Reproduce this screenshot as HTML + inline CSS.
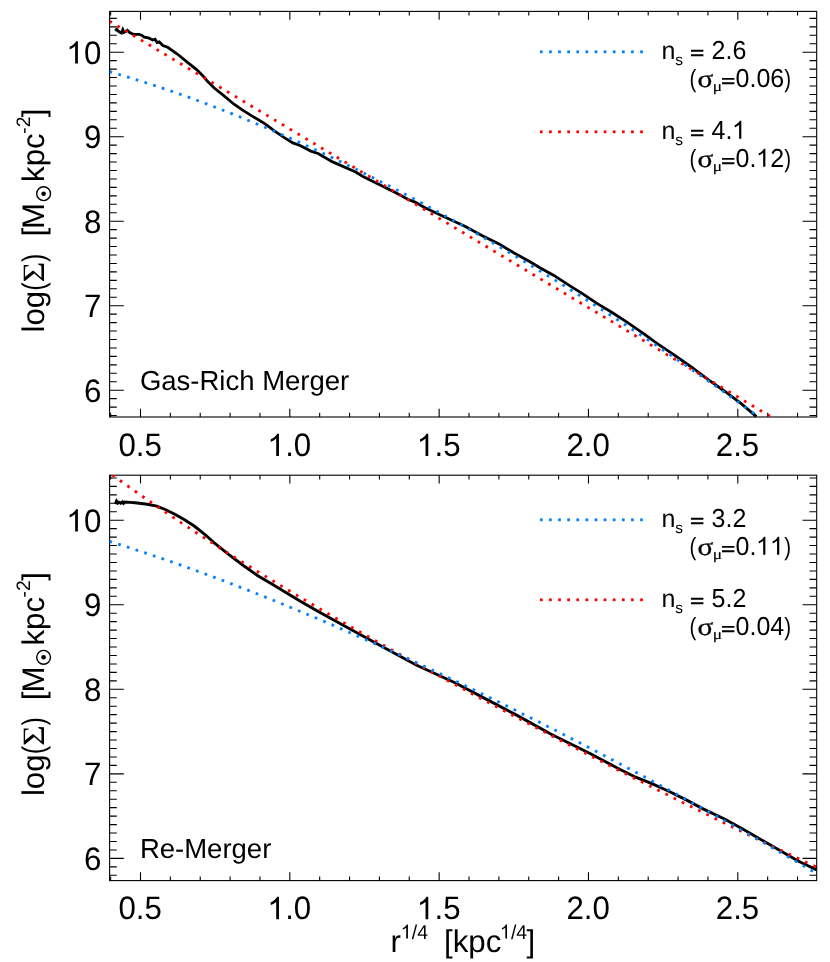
<!DOCTYPE html>
<html><head><meta charset="utf-8"><title>Surface density profiles</title>
<style>
html,body{margin:0;padding:0;background:#fff;}
body{width:830px;height:962px;overflow:hidden;}
svg{display:block;will-change:transform;text-rendering:geometricPrecision;font-family:"Liberation Sans",sans-serif;fill:#000;}
</style></head><body>
<svg width="830" height="962" viewBox="0 0 830 962">
<rect width="830" height="962" fill="#fff"/>
<defs><clipPath id="c1"><rect x="109.5" y="11.3" width="707.3000000000001" height="406.1"/></clipPath><clipPath id="c2"><rect x="109.5" y="475.09999999999997" width="707.3000000000001" height="405.90000000000003"/></clipPath></defs>
<!-- panel 1 -->
<rect x="109.6" y="11.4" width="707.1" height="405.6" fill="none" stroke="#000" stroke-width="1.1"/><path d="M110.64 11.4 v4.2 M110.64 417.0 v-4.2 M140.50 11.4 v8.3 M140.50 417.0 v-8.3 M170.36 11.4 v4.2 M170.36 417.0 v-4.2 M200.23 11.4 v4.2 M200.23 417.0 v-4.2 M230.10 11.4 v4.2 M230.10 417.0 v-4.2 M259.96 11.4 v4.2 M259.96 417.0 v-4.2 M289.82 11.4 v8.3 M289.82 417.0 v-8.3 M319.69 11.4 v4.2 M319.69 417.0 v-4.2 M349.55 11.4 v4.2 M349.55 417.0 v-4.2 M379.42 11.4 v4.2 M379.42 417.0 v-4.2 M409.28 11.4 v4.2 M409.28 417.0 v-4.2 M439.15 11.4 v8.3 M439.15 417.0 v-8.3 M469.01 11.4 v4.2 M469.01 417.0 v-4.2 M498.88 11.4 v4.2 M498.88 417.0 v-4.2 M528.75 11.4 v4.2 M528.75 417.0 v-4.2 M558.61 11.4 v4.2 M558.61 417.0 v-4.2 M588.47 11.4 v8.3 M588.47 417.0 v-8.3 M618.34 11.4 v4.2 M618.34 417.0 v-4.2 M648.21 11.4 v4.2 M648.21 417.0 v-4.2 M678.07 11.4 v4.2 M678.07 417.0 v-4.2 M707.93 11.4 v4.2 M707.93 417.0 v-4.2 M737.80 11.4 v8.3 M737.80 417.0 v-8.3 M767.66 11.4 v4.2 M767.66 417.0 v-4.2 M797.53 11.4 v4.2 M797.53 417.0 v-4.2 M109.6 415.55 h7.2 M816.7 415.55 h-7.2 M109.6 407.10 h7.2 M816.7 407.10 h-7.2 M109.6 398.65 h7.2 M816.7 398.65 h-7.2 M109.6 390.20 h14.2 M816.7 390.20 h-14.2 M109.6 381.75 h7.2 M816.7 381.75 h-7.2 M109.6 373.30 h7.2 M816.7 373.30 h-7.2 M109.6 364.85 h7.2 M816.7 364.85 h-7.2 M109.6 356.40 h7.2 M816.7 356.40 h-7.2 M109.6 347.95 h7.2 M816.7 347.95 h-7.2 M109.6 339.50 h7.2 M816.7 339.50 h-7.2 M109.6 331.05 h7.2 M816.7 331.05 h-7.2 M109.6 322.60 h7.2 M816.7 322.60 h-7.2 M109.6 314.15 h7.2 M816.7 314.15 h-7.2 M109.6 305.70 h14.2 M816.7 305.70 h-14.2 M109.6 297.25 h7.2 M816.7 297.25 h-7.2 M109.6 288.80 h7.2 M816.7 288.80 h-7.2 M109.6 280.35 h7.2 M816.7 280.35 h-7.2 M109.6 271.90 h7.2 M816.7 271.90 h-7.2 M109.6 263.45 h7.2 M816.7 263.45 h-7.2 M109.6 255.00 h7.2 M816.7 255.00 h-7.2 M109.6 246.55 h7.2 M816.7 246.55 h-7.2 M109.6 238.10 h7.2 M816.7 238.10 h-7.2 M109.6 229.65 h7.2 M816.7 229.65 h-7.2 M109.6 221.20 h14.2 M816.7 221.20 h-14.2 M109.6 212.75 h7.2 M816.7 212.75 h-7.2 M109.6 204.30 h7.2 M816.7 204.30 h-7.2 M109.6 195.85 h7.2 M816.7 195.85 h-7.2 M109.6 187.40 h7.2 M816.7 187.40 h-7.2 M109.6 178.95 h7.2 M816.7 178.95 h-7.2 M109.6 170.50 h7.2 M816.7 170.50 h-7.2 M109.6 162.05 h7.2 M816.7 162.05 h-7.2 M109.6 153.60 h7.2 M816.7 153.60 h-7.2 M109.6 145.15 h7.2 M816.7 145.15 h-7.2 M109.6 136.70 h14.2 M816.7 136.70 h-14.2 M109.6 128.25 h7.2 M816.7 128.25 h-7.2 M109.6 119.80 h7.2 M816.7 119.80 h-7.2 M109.6 111.35 h7.2 M816.7 111.35 h-7.2 M109.6 102.90 h7.2 M816.7 102.90 h-7.2 M109.6 94.45 h7.2 M816.7 94.45 h-7.2 M109.6 86.00 h7.2 M816.7 86.00 h-7.2 M109.6 77.55 h7.2 M816.7 77.55 h-7.2 M109.6 69.10 h7.2 M816.7 69.10 h-7.2 M109.6 60.65 h7.2 M816.7 60.65 h-7.2 M109.6 52.20 h14.2 M816.7 52.20 h-14.2 M109.6 43.75 h7.2 M816.7 43.75 h-7.2 M109.6 35.30 h7.2 M816.7 35.30 h-7.2 M109.6 26.85 h7.2 M816.7 26.85 h-7.2 M109.6 18.40 h7.2 M816.7 18.40 h-7.2" stroke="#000" stroke-width="1.1" fill="none"/>
<g clip-path="url(#c1)">
<path d="M115.2 30.7 L116.7 29.3 L118.8 31.6 L121.4 33.0 L122.8 29.6 L123.9 32.3 L125.7 31.4 L127.5 30.3 L129.7 32.6 L133.3 34.3 L139.1 34.3 L142.0 35.4 L144.2 37.2 L148.5 37.9 L152.8 40.1 L155.0 39.3 L157.2 42.6 L159.3 41.9 L162.8 45.5 L167.7 47.3 L177.3 54.0 L186.9 61.8 L196.6 69.6 L204.2 77.2 L207.2 81.1 L214.5 88.3 L224.1 95.9 L233.7 104.0 L243.4 110.6 L253.0 116.6 L265.1 123.9 L274.7 131.1 L284.3 137.7 L292.8 142.9 L300.0 145.5 L310.9 151.1 L318.1 153.5 L332.6 161.9 L355.7 172.0 L362.9 176.4 L381.7 185.8 L396.2 193.0 L407.8 199.2 L415.0 202.1 L424.5 207.5 L444.7 216.9 L464.9 226.3 L482.3 235.7 L499.6 244.3 L514.1 253.0 L530.0 261.7 L539.5 267.5 L553.9 275.4 L568.4 284.8 L582.8 293.8 L597.3 303.6 L611.7 312.3 L626.2 321.7 L645.0 334.7 L656.9 343.4 L673.7 354.7 L690.6 366.5 L707.5 379.1 L724.3 391.0 L741.2 403.6 L756.4 416.6" fill="none" stroke="#000" stroke-width="2.8" stroke-linejoin="miter" stroke-miterlimit="4" stroke-linecap="butt"/>
<g fill="#ff0000"><rect x="-1.35" y="-1.40" width="2.7" height="2.8" transform="translate(110.71 21.94) rotate(30.9)"/><rect x="-1.35" y="-1.40" width="2.7" height="2.8" transform="translate(118.55 26.63) rotate(30.9)"/><rect x="-1.35" y="-1.40" width="2.7" height="2.8" transform="translate(126.38 31.31) rotate(30.9)"/><rect x="-1.35" y="-1.40" width="2.7" height="2.8" transform="translate(134.21 35.99) rotate(30.9)"/><rect x="-1.35" y="-1.40" width="2.7" height="2.8" transform="translate(142.05 40.67) rotate(30.9)"/><rect x="-1.35" y="-1.40" width="2.7" height="2.8" transform="translate(149.88 45.36) rotate(30.9)"/><rect x="-1.35" y="-1.40" width="2.7" height="2.8" transform="translate(157.72 50.04) rotate(30.9)"/><rect x="-1.35" y="-1.40" width="2.7" height="2.8" transform="translate(165.55 54.72) rotate(30.9)"/><rect x="-1.35" y="-1.40" width="2.7" height="2.8" transform="translate(173.39 59.41) rotate(30.9)"/><rect x="-1.35" y="-1.40" width="2.7" height="2.8" transform="translate(181.22 64.09) rotate(30.9)"/><rect x="-1.35" y="-1.40" width="2.7" height="2.8" transform="translate(189.05 68.77) rotate(30.9)"/><rect x="-1.35" y="-1.40" width="2.7" height="2.8" transform="translate(196.89 73.45) rotate(30.9)"/><rect x="-1.35" y="-1.40" width="2.7" height="2.8" transform="translate(204.72 78.14) rotate(30.9)"/><rect x="-1.35" y="-1.40" width="2.7" height="2.8" transform="translate(212.56 82.82) rotate(30.9)"/><rect x="-1.35" y="-1.40" width="2.7" height="2.8" transform="translate(220.39 87.50) rotate(30.9)"/><rect x="-1.35" y="-1.40" width="2.7" height="2.8" transform="translate(228.22 92.19) rotate(30.9)"/><rect x="-1.35" y="-1.40" width="2.7" height="2.8" transform="translate(236.06 96.87) rotate(30.9)"/><rect x="-1.35" y="-1.40" width="2.7" height="2.8" transform="translate(243.89 101.55) rotate(30.9)"/><rect x="-1.35" y="-1.40" width="2.7" height="2.8" transform="translate(251.72 106.24) rotate(30.9)"/><rect x="-1.35" y="-1.40" width="2.7" height="2.8" transform="translate(259.56 110.92) rotate(30.9)"/><rect x="-1.35" y="-1.40" width="2.7" height="2.8" transform="translate(267.39 115.60) rotate(30.9)"/><rect x="-1.35" y="-1.40" width="2.7" height="2.8" transform="translate(275.23 120.29) rotate(30.9)"/><rect x="-1.35" y="-1.40" width="2.7" height="2.8" transform="translate(283.06 124.97) rotate(30.9)"/><rect x="-1.35" y="-1.40" width="2.7" height="2.8" transform="translate(290.89 129.65) rotate(30.9)"/><rect x="-1.35" y="-1.40" width="2.7" height="2.8" transform="translate(298.73 134.34) rotate(30.9)"/><rect x="-1.35" y="-1.40" width="2.7" height="2.8" transform="translate(306.56 139.02) rotate(30.9)"/><rect x="-1.35" y="-1.40" width="2.7" height="2.8" transform="translate(314.39 143.71) rotate(30.9)"/><rect x="-1.35" y="-1.40" width="2.7" height="2.8" transform="translate(322.23 148.39) rotate(30.9)"/><rect x="-1.35" y="-1.40" width="2.7" height="2.8" transform="translate(330.06 153.07) rotate(30.9)"/><rect x="-1.35" y="-1.40" width="2.7" height="2.8" transform="translate(337.89 157.76) rotate(30.9)"/><rect x="-1.35" y="-1.40" width="2.7" height="2.8" transform="translate(345.73 162.44) rotate(30.9)"/><rect x="-1.35" y="-1.40" width="2.7" height="2.8" transform="translate(353.56 167.13) rotate(30.9)"/><rect x="-1.35" y="-1.40" width="2.7" height="2.8" transform="translate(361.39 171.81) rotate(30.9)"/><rect x="-1.35" y="-1.40" width="2.7" height="2.8" transform="translate(369.23 176.49) rotate(30.9)"/><rect x="-1.35" y="-1.40" width="2.7" height="2.8" transform="translate(377.06 181.18) rotate(30.9)"/><rect x="-1.35" y="-1.40" width="2.7" height="2.8" transform="translate(384.89 185.86) rotate(30.9)"/><rect x="-1.35" y="-1.40" width="2.7" height="2.8" transform="translate(392.73 190.55) rotate(30.9)"/><rect x="-1.35" y="-1.40" width="2.7" height="2.8" transform="translate(400.56 195.23) rotate(30.9)"/><rect x="-1.35" y="-1.40" width="2.7" height="2.8" transform="translate(408.39 199.92) rotate(30.9)"/><rect x="-1.35" y="-1.40" width="2.7" height="2.8" transform="translate(416.23 204.60) rotate(30.9)"/><rect x="-1.35" y="-1.40" width="2.7" height="2.8" transform="translate(424.06 209.29) rotate(30.9)"/><rect x="-1.35" y="-1.40" width="2.7" height="2.8" transform="translate(431.89 213.97) rotate(30.9)"/><rect x="-1.35" y="-1.40" width="2.7" height="2.8" transform="translate(439.73 218.66) rotate(30.9)"/><rect x="-1.35" y="-1.40" width="2.7" height="2.8" transform="translate(447.56 223.34) rotate(30.9)"/><rect x="-1.35" y="-1.40" width="2.7" height="2.8" transform="translate(455.39 228.03) rotate(30.9)"/><rect x="-1.35" y="-1.40" width="2.7" height="2.8" transform="translate(463.23 232.71) rotate(30.9)"/><rect x="-1.35" y="-1.40" width="2.7" height="2.8" transform="translate(471.06 237.39) rotate(30.9)"/><rect x="-1.35" y="-1.40" width="2.7" height="2.8" transform="translate(478.89 242.08) rotate(30.9)"/><rect x="-1.35" y="-1.40" width="2.7" height="2.8" transform="translate(486.72 246.76) rotate(30.9)"/><rect x="-1.35" y="-1.40" width="2.7" height="2.8" transform="translate(494.56 251.45) rotate(30.9)"/><rect x="-1.35" y="-1.40" width="2.7" height="2.8" transform="translate(502.39 256.14) rotate(30.9)"/><rect x="-1.35" y="-1.40" width="2.7" height="2.8" transform="translate(510.22 260.82) rotate(30.9)"/><rect x="-1.35" y="-1.40" width="2.7" height="2.8" transform="translate(518.05 265.51) rotate(30.9)"/><rect x="-1.35" y="-1.40" width="2.7" height="2.8" transform="translate(525.89 270.19) rotate(30.9)"/><rect x="-1.35" y="-1.40" width="2.7" height="2.8" transform="translate(533.72 274.88) rotate(30.9)"/><rect x="-1.35" y="-1.40" width="2.7" height="2.8" transform="translate(541.55 279.56) rotate(30.9)"/><rect x="-1.35" y="-1.40" width="2.7" height="2.8" transform="translate(549.39 284.25) rotate(30.9)"/><rect x="-1.35" y="-1.40" width="2.7" height="2.8" transform="translate(557.22 288.93) rotate(30.9)"/><rect x="-1.35" y="-1.40" width="2.7" height="2.8" transform="translate(565.05 293.62) rotate(30.9)"/><rect x="-1.35" y="-1.40" width="2.7" height="2.8" transform="translate(572.88 298.30) rotate(30.9)"/><rect x="-1.35" y="-1.40" width="2.7" height="2.8" transform="translate(580.72 302.99) rotate(30.9)"/><rect x="-1.35" y="-1.40" width="2.7" height="2.8" transform="translate(588.55 307.68) rotate(30.9)"/><rect x="-1.35" y="-1.40" width="2.7" height="2.8" transform="translate(596.38 312.36) rotate(30.9)"/><rect x="-1.35" y="-1.40" width="2.7" height="2.8" transform="translate(604.21 317.05) rotate(30.9)"/><rect x="-1.35" y="-1.40" width="2.7" height="2.8" transform="translate(612.04 321.73) rotate(30.9)"/><rect x="-1.35" y="-1.40" width="2.7" height="2.8" transform="translate(619.88 326.42) rotate(30.9)"/><rect x="-1.35" y="-1.40" width="2.7" height="2.8" transform="translate(627.71 331.11) rotate(30.9)"/><rect x="-1.35" y="-1.40" width="2.7" height="2.8" transform="translate(635.54 335.79) rotate(30.9)"/><rect x="-1.35" y="-1.40" width="2.7" height="2.8" transform="translate(643.37 340.48) rotate(30.9)"/><rect x="-1.35" y="-1.40" width="2.7" height="2.8" transform="translate(651.21 345.16) rotate(30.9)"/><rect x="-1.35" y="-1.40" width="2.7" height="2.8" transform="translate(659.04 349.85) rotate(30.9)"/><rect x="-1.35" y="-1.40" width="2.7" height="2.8" transform="translate(666.87 354.54) rotate(30.9)"/><rect x="-1.35" y="-1.40" width="2.7" height="2.8" transform="translate(674.70 359.22) rotate(30.9)"/><rect x="-1.35" y="-1.40" width="2.7" height="2.8" transform="translate(682.53 363.91) rotate(30.9)"/><rect x="-1.35" y="-1.40" width="2.7" height="2.8" transform="translate(690.37 368.60) rotate(30.9)"/><rect x="-1.35" y="-1.40" width="2.7" height="2.8" transform="translate(698.20 373.28) rotate(30.9)"/><rect x="-1.35" y="-1.40" width="2.7" height="2.8" transform="translate(706.03 377.97) rotate(30.9)"/><rect x="-1.35" y="-1.40" width="2.7" height="2.8" transform="translate(713.86 382.65) rotate(30.9)"/><rect x="-1.35" y="-1.40" width="2.7" height="2.8" transform="translate(721.69 387.34) rotate(30.9)"/><rect x="-1.35" y="-1.40" width="2.7" height="2.8" transform="translate(729.53 392.03) rotate(30.9)"/><rect x="-1.35" y="-1.40" width="2.7" height="2.8" transform="translate(737.36 396.72) rotate(30.9)"/><rect x="-1.35" y="-1.40" width="2.7" height="2.8" transform="translate(745.19 401.40) rotate(30.9)"/><rect x="-1.35" y="-1.40" width="2.7" height="2.8" transform="translate(753.02 406.09) rotate(30.9)"/><rect x="-1.35" y="-1.40" width="2.7" height="2.8" transform="translate(760.85 410.78) rotate(30.9)"/><rect x="-1.35" y="-1.40" width="2.7" height="2.8" transform="translate(768.68 415.46) rotate(30.9)"/></g>
<g fill="#0080ff"><rect x="-1.35" y="-1.40" width="2.7" height="2.8" transform="translate(110.81 72.05) rotate(16.0)"/><rect x="-1.35" y="-1.40" width="2.7" height="2.8" transform="translate(119.58 74.60) rotate(16.4)"/><rect x="-1.35" y="-1.40" width="2.7" height="2.8" transform="translate(128.32 77.22) rotate(16.9)"/><rect x="-1.35" y="-1.40" width="2.7" height="2.8" transform="translate(137.05 79.91) rotate(17.3)"/><rect x="-1.35" y="-1.40" width="2.7" height="2.8" transform="translate(145.75 82.66) rotate(17.8)"/><rect x="-1.35" y="-1.40" width="2.7" height="2.8" transform="translate(154.43 85.48) rotate(18.2)"/><rect x="-1.35" y="-1.40" width="2.7" height="2.8" transform="translate(163.09 88.37) rotate(18.6)"/><rect x="-1.35" y="-1.40" width="2.7" height="2.8" transform="translate(171.73 91.31) rotate(19.0)"/><rect x="-1.35" y="-1.40" width="2.7" height="2.8" transform="translate(180.35 94.32) rotate(19.5)"/><rect x="-1.35" y="-1.40" width="2.7" height="2.8" transform="translate(188.95 97.39) rotate(19.8)"/><rect x="-1.35" y="-1.40" width="2.7" height="2.8" transform="translate(197.52 100.52) rotate(20.2)"/><rect x="-1.35" y="-1.40" width="2.7" height="2.8" transform="translate(206.08 103.71) rotate(20.6)"/><rect x="-1.35" y="-1.40" width="2.7" height="2.8" transform="translate(214.61 106.95) rotate(21.0)"/><rect x="-1.35" y="-1.40" width="2.7" height="2.8" transform="translate(223.12 110.25) rotate(21.3)"/><rect x="-1.35" y="-1.40" width="2.7" height="2.8" transform="translate(231.61 113.60) rotate(21.7)"/><rect x="-1.35" y="-1.40" width="2.7" height="2.8" transform="translate(240.08 117.00) rotate(22.1)"/><rect x="-1.35" y="-1.40" width="2.7" height="2.8" transform="translate(248.54 120.45) rotate(22.4)"/><rect x="-1.35" y="-1.40" width="2.7" height="2.8" transform="translate(256.96 123.95) rotate(22.7)"/><rect x="-1.35" y="-1.40" width="2.7" height="2.8" transform="translate(265.37 127.51) rotate(23.1)"/><rect x="-1.35" y="-1.40" width="2.7" height="2.8" transform="translate(273.76 131.10) rotate(23.4)"/><rect x="-1.35" y="-1.40" width="2.7" height="2.8" transform="translate(282.13 134.75) rotate(23.7)"/><rect x="-1.35" y="-1.40" width="2.7" height="2.8" transform="translate(290.48 138.44) rotate(24.0)"/><rect x="-1.35" y="-1.40" width="2.7" height="2.8" transform="translate(298.81 142.18) rotate(24.3)"/><rect x="-1.35" y="-1.40" width="2.7" height="2.8" transform="translate(307.12 145.96) rotate(24.6)"/><rect x="-1.35" y="-1.40" width="2.7" height="2.8" transform="translate(315.41 149.78) rotate(24.9)"/><rect x="-1.35" y="-1.40" width="2.7" height="2.8" transform="translate(323.68 153.64) rotate(25.2)"/><rect x="-1.35" y="-1.40" width="2.7" height="2.8" transform="translate(331.93 157.55) rotate(25.5)"/><rect x="-1.35" y="-1.40" width="2.7" height="2.8" transform="translate(340.16 161.49) rotate(25.7)"/><rect x="-1.35" y="-1.40" width="2.7" height="2.8" transform="translate(348.38 165.48) rotate(26.0)"/><rect x="-1.35" y="-1.40" width="2.7" height="2.8" transform="translate(356.57 169.50) rotate(26.3)"/><rect x="-1.35" y="-1.40" width="2.7" height="2.8" transform="translate(364.75 173.56) rotate(26.5)"/><rect x="-1.35" y="-1.40" width="2.7" height="2.8" transform="translate(372.91 177.65) rotate(26.8)"/><rect x="-1.35" y="-1.40" width="2.7" height="2.8" transform="translate(381.04 181.79) rotate(27.0)"/><rect x="-1.35" y="-1.40" width="2.7" height="2.8" transform="translate(389.17 185.96) rotate(27.3)"/><rect x="-1.35" y="-1.40" width="2.7" height="2.8" transform="translate(397.27 190.16) rotate(27.5)"/><rect x="-1.35" y="-1.40" width="2.7" height="2.8" transform="translate(405.36 194.40) rotate(27.8)"/><rect x="-1.35" y="-1.40" width="2.7" height="2.8" transform="translate(413.42 198.67) rotate(28.0)"/><rect x="-1.35" y="-1.40" width="2.7" height="2.8" transform="translate(421.47 202.97) rotate(28.2)"/><rect x="-1.35" y="-1.40" width="2.7" height="2.8" transform="translate(429.51 207.30) rotate(28.5)"/><rect x="-1.35" y="-1.40" width="2.7" height="2.8" transform="translate(437.52 211.67) rotate(28.7)"/><rect x="-1.35" y="-1.40" width="2.7" height="2.8" transform="translate(445.52 216.07) rotate(28.9)"/><rect x="-1.35" y="-1.40" width="2.7" height="2.8" transform="translate(453.51 220.50) rotate(29.1)"/><rect x="-1.35" y="-1.40" width="2.7" height="2.8" transform="translate(461.47 224.95) rotate(29.3)"/><rect x="-1.35" y="-1.40" width="2.7" height="2.8" transform="translate(469.42 229.44) rotate(29.5)"/><rect x="-1.35" y="-1.40" width="2.7" height="2.8" transform="translate(477.36 233.96) rotate(29.8)"/><rect x="-1.35" y="-1.40" width="2.7" height="2.8" transform="translate(485.27 238.50) rotate(30.0)"/><rect x="-1.35" y="-1.40" width="2.7" height="2.8" transform="translate(493.17 243.08) rotate(30.2)"/><rect x="-1.35" y="-1.40" width="2.7" height="2.8" transform="translate(501.06 247.68) rotate(30.4)"/><rect x="-1.35" y="-1.40" width="2.7" height="2.8" transform="translate(508.93 252.30) rotate(30.6)"/><rect x="-1.35" y="-1.40" width="2.7" height="2.8" transform="translate(516.78 256.96) rotate(30.7)"/><rect x="-1.35" y="-1.40" width="2.7" height="2.8" transform="translate(524.62 261.64) rotate(30.9)"/><rect x="-1.35" y="-1.40" width="2.7" height="2.8" transform="translate(532.44 266.34) rotate(31.1)"/><rect x="-1.35" y="-1.40" width="2.7" height="2.8" transform="translate(540.25 271.07) rotate(31.3)"/><rect x="-1.35" y="-1.40" width="2.7" height="2.8" transform="translate(548.04 275.83) rotate(31.5)"/><rect x="-1.35" y="-1.40" width="2.7" height="2.8" transform="translate(555.81 280.61) rotate(31.7)"/><rect x="-1.35" y="-1.40" width="2.7" height="2.8" transform="translate(563.57 285.42) rotate(31.9)"/><rect x="-1.35" y="-1.40" width="2.7" height="2.8" transform="translate(571.32 290.25) rotate(32.0)"/><rect x="-1.35" y="-1.40" width="2.7" height="2.8" transform="translate(579.05 295.10) rotate(32.2)"/><rect x="-1.35" y="-1.40" width="2.7" height="2.8" transform="translate(586.77 299.98) rotate(32.4)"/><rect x="-1.35" y="-1.40" width="2.7" height="2.8" transform="translate(594.47 304.88) rotate(32.6)"/><rect x="-1.35" y="-1.40" width="2.7" height="2.8" transform="translate(602.16 309.80) rotate(32.7)"/><rect x="-1.35" y="-1.40" width="2.7" height="2.8" transform="translate(609.83 314.75) rotate(32.9)"/><rect x="-1.35" y="-1.40" width="2.7" height="2.8" transform="translate(617.49 319.72) rotate(33.1)"/><rect x="-1.35" y="-1.40" width="2.7" height="2.8" transform="translate(625.13 324.71) rotate(33.2)"/><rect x="-1.35" y="-1.40" width="2.7" height="2.8" transform="translate(632.76 329.72) rotate(33.4)"/><rect x="-1.35" y="-1.40" width="2.7" height="2.8" transform="translate(640.38 334.75) rotate(33.5)"/><rect x="-1.35" y="-1.40" width="2.7" height="2.8" transform="translate(647.98 339.81) rotate(33.7)"/><rect x="-1.35" y="-1.40" width="2.7" height="2.8" transform="translate(655.56 344.88) rotate(33.9)"/><rect x="-1.35" y="-1.40" width="2.7" height="2.8" transform="translate(663.14 349.98) rotate(34.0)"/><rect x="-1.35" y="-1.40" width="2.7" height="2.8" transform="translate(670.70 355.10) rotate(34.2)"/><rect x="-1.35" y="-1.40" width="2.7" height="2.8" transform="translate(678.24 360.24) rotate(34.3)"/><rect x="-1.35" y="-1.40" width="2.7" height="2.8" transform="translate(685.77 365.40) rotate(34.5)"/><rect x="-1.35" y="-1.40" width="2.7" height="2.8" transform="translate(693.29 370.58) rotate(34.6)"/><rect x="-1.35" y="-1.40" width="2.7" height="2.8" transform="translate(700.79 375.78) rotate(34.8)"/><rect x="-1.35" y="-1.40" width="2.7" height="2.8" transform="translate(708.28 381.00) rotate(35.0)"/><rect x="-1.35" y="-1.40" width="2.7" height="2.8" transform="translate(715.76 386.24) rotate(35.1)"/><rect x="-1.35" y="-1.40" width="2.7" height="2.8" transform="translate(723.22 391.50) rotate(35.3)"/><rect x="-1.35" y="-1.40" width="2.7" height="2.8" transform="translate(730.66 396.77) rotate(35.4)"/><rect x="-1.35" y="-1.40" width="2.7" height="2.8" transform="translate(738.10 402.07) rotate(35.6)"/><rect x="-1.35" y="-1.40" width="2.7" height="2.8" transform="translate(745.52 407.39) rotate(35.7)"/><rect x="-1.35" y="-1.40" width="2.7" height="2.8" transform="translate(752.92 412.73) rotate(35.8)"/></g>
</g>
<!-- panel 2 -->
<rect x="109.6" y="475.2" width="707.1" height="405.40000000000003" fill="none" stroke="#000" stroke-width="1.1"/><path d="M110.64 475.2 v4.2 M110.64 880.6 v-4.2 M140.50 475.2 v8.3 M140.50 880.6 v-8.3 M170.36 475.2 v4.2 M170.36 880.6 v-4.2 M200.23 475.2 v4.2 M200.23 880.6 v-4.2 M230.10 475.2 v4.2 M230.10 880.6 v-4.2 M259.96 475.2 v4.2 M259.96 880.6 v-4.2 M289.82 475.2 v8.3 M289.82 880.6 v-8.3 M319.69 475.2 v4.2 M319.69 880.6 v-4.2 M349.55 475.2 v4.2 M349.55 880.6 v-4.2 M379.42 475.2 v4.2 M379.42 880.6 v-4.2 M409.28 475.2 v4.2 M409.28 880.6 v-4.2 M439.15 475.2 v8.3 M439.15 880.6 v-8.3 M469.01 475.2 v4.2 M469.01 880.6 v-4.2 M498.88 475.2 v4.2 M498.88 880.6 v-4.2 M528.75 475.2 v4.2 M528.75 880.6 v-4.2 M558.61 475.2 v4.2 M558.61 880.6 v-4.2 M588.47 475.2 v8.3 M588.47 880.6 v-8.3 M618.34 475.2 v4.2 M618.34 880.6 v-4.2 M648.21 475.2 v4.2 M648.21 880.6 v-4.2 M678.07 475.2 v4.2 M678.07 880.6 v-4.2 M707.93 475.2 v4.2 M707.93 880.6 v-4.2 M737.80 475.2 v8.3 M737.80 880.6 v-8.3 M767.66 475.2 v4.2 M767.66 880.6 v-4.2 M797.53 475.2 v4.2 M797.53 880.6 v-4.2 M109.6 875.31 h7.2 M816.7 875.31 h-7.2 M109.6 866.86 h7.2 M816.7 866.86 h-7.2 M109.6 858.40 h14.2 M816.7 858.40 h-14.2 M109.6 849.95 h7.2 M816.7 849.95 h-7.2 M109.6 841.49 h7.2 M816.7 841.49 h-7.2 M109.6 833.04 h7.2 M816.7 833.04 h-7.2 M109.6 824.58 h7.2 M816.7 824.58 h-7.2 M109.6 816.12 h7.2 M816.7 816.12 h-7.2 M109.6 807.67 h7.2 M816.7 807.67 h-7.2 M109.6 799.22 h7.2 M816.7 799.22 h-7.2 M109.6 790.76 h7.2 M816.7 790.76 h-7.2 M109.6 782.31 h7.2 M816.7 782.31 h-7.2 M109.6 773.85 h14.2 M816.7 773.85 h-14.2 M109.6 765.40 h7.2 M816.7 765.40 h-7.2 M109.6 756.94 h7.2 M816.7 756.94 h-7.2 M109.6 748.49 h7.2 M816.7 748.49 h-7.2 M109.6 740.03 h7.2 M816.7 740.03 h-7.2 M109.6 731.58 h7.2 M816.7 731.58 h-7.2 M109.6 723.12 h7.2 M816.7 723.12 h-7.2 M109.6 714.66 h7.2 M816.7 714.66 h-7.2 M109.6 706.21 h7.2 M816.7 706.21 h-7.2 M109.6 697.75 h7.2 M816.7 697.75 h-7.2 M109.6 689.30 h14.2 M816.7 689.30 h-14.2 M109.6 680.85 h7.2 M816.7 680.85 h-7.2 M109.6 672.39 h7.2 M816.7 672.39 h-7.2 M109.6 663.93 h7.2 M816.7 663.93 h-7.2 M109.6 655.48 h7.2 M816.7 655.48 h-7.2 M109.6 647.03 h7.2 M816.7 647.03 h-7.2 M109.6 638.57 h7.2 M816.7 638.57 h-7.2 M109.6 630.12 h7.2 M816.7 630.12 h-7.2 M109.6 621.66 h7.2 M816.7 621.66 h-7.2 M109.6 613.21 h7.2 M816.7 613.21 h-7.2 M109.6 604.75 h14.2 M816.7 604.75 h-14.2 M109.6 596.30 h7.2 M816.7 596.30 h-7.2 M109.6 587.84 h7.2 M816.7 587.84 h-7.2 M109.6 579.38 h7.2 M816.7 579.38 h-7.2 M109.6 570.93 h7.2 M816.7 570.93 h-7.2 M109.6 562.48 h7.2 M816.7 562.48 h-7.2 M109.6 554.02 h7.2 M816.7 554.02 h-7.2 M109.6 545.57 h7.2 M816.7 545.57 h-7.2 M109.6 537.11 h7.2 M816.7 537.11 h-7.2 M109.6 528.65 h7.2 M816.7 528.65 h-7.2 M109.6 520.20 h14.2 M816.7 520.20 h-14.2 M109.6 511.75 h7.2 M816.7 511.75 h-7.2 M109.6 503.29 h7.2 M816.7 503.29 h-7.2 M109.6 494.83 h7.2 M816.7 494.83 h-7.2 M109.6 486.38 h7.2 M816.7 486.38 h-7.2 M109.6 477.93 h7.2 M816.7 477.93 h-7.2" stroke="#000" stroke-width="1.1" fill="none"/>
<g clip-path="url(#c2)">
<path d="M115.2 504.0 L116.5 501.0 L117.8 503.0 L118.8 502.2 L120.7 503.2 L122.5 501.8 L123.5 503.4 L125.0 502.1 L129.7 502.4 L135.1 502.8 L147.2 504.3 L156.8 506.1 L165.2 509.5 L174.9 514.3 L184.5 519.8 L194.2 526.0 L205.0 534.5 L214.5 543.1 L228.9 554.7 L243.4 565.5 L257.8 575.7 L272.3 584.3 L286.7 593.0 L301.2 601.7 L320.0 612.5 L348.7 628.2 L382.5 646.8 L416.2 665.0 L455.0 682.7 L483.7 697.9 L517.5 715.6 L551.2 734.2 L590.0 753.5 L618.7 768.7 L635.6 777.2 L652.5 783.9 L669.3 791.5 L686.2 799.9 L703.1 808.9 L725.0 819.3 L742.7 829.1 L770.4 845.0 L798.1 861.0 L816.8 870.0" fill="none" stroke="#000" stroke-width="2.9" stroke-linejoin="miter" stroke-miterlimit="4" stroke-linecap="butt"/>
<g fill="#ff0000"><rect x="-1.35" y="-1.40" width="2.7" height="2.8" transform="translate(113.60 475.90) rotate(35.8)"/><rect x="-1.35" y="-1.40" width="2.7" height="2.8" transform="translate(121.01 481.22) rotate(35.6)"/><rect x="-1.35" y="-1.40" width="2.7" height="2.8" transform="translate(128.45 486.51) rotate(35.3)"/><rect x="-1.35" y="-1.40" width="2.7" height="2.8" transform="translate(135.91 491.77) rotate(35.1)"/><rect x="-1.35" y="-1.40" width="2.7" height="2.8" transform="translate(143.39 497.00) rotate(34.8)"/><rect x="-1.35" y="-1.40" width="2.7" height="2.8" transform="translate(150.90 502.20) rotate(34.6)"/><rect x="-1.35" y="-1.40" width="2.7" height="2.8" transform="translate(158.42 507.36) rotate(34.3)"/><rect x="-1.35" y="-1.40" width="2.7" height="2.8" transform="translate(165.97 512.49) rotate(34.1)"/><rect x="-1.35" y="-1.40" width="2.7" height="2.8" transform="translate(173.54 517.59) rotate(33.9)"/><rect x="-1.35" y="-1.40" width="2.7" height="2.8" transform="translate(181.13 522.66) rotate(33.6)"/><rect x="-1.35" y="-1.40" width="2.7" height="2.8" transform="translate(188.74 527.70) rotate(33.4)"/><rect x="-1.35" y="-1.40" width="2.7" height="2.8" transform="translate(196.37 532.72) rotate(33.2)"/><rect x="-1.35" y="-1.40" width="2.7" height="2.8" transform="translate(204.02 537.70) rotate(33.0)"/><rect x="-1.35" y="-1.40" width="2.7" height="2.8" transform="translate(211.68 542.65) rotate(32.8)"/><rect x="-1.35" y="-1.40" width="2.7" height="2.8" transform="translate(219.37 547.58) rotate(32.6)"/><rect x="-1.35" y="-1.40" width="2.7" height="2.8" transform="translate(227.07 552.48) rotate(32.4)"/><rect x="-1.35" y="-1.40" width="2.7" height="2.8" transform="translate(234.79 557.35) rotate(32.2)"/><rect x="-1.35" y="-1.40" width="2.7" height="2.8" transform="translate(242.52 562.20) rotate(32.0)"/><rect x="-1.35" y="-1.40" width="2.7" height="2.8" transform="translate(250.27 567.02) rotate(31.8)"/><rect x="-1.35" y="-1.40" width="2.7" height="2.8" transform="translate(258.04 571.82) rotate(31.6)"/><rect x="-1.35" y="-1.40" width="2.7" height="2.8" transform="translate(265.82 576.59) rotate(31.4)"/><rect x="-1.35" y="-1.40" width="2.7" height="2.8" transform="translate(273.62 581.34) rotate(31.3)"/><rect x="-1.35" y="-1.40" width="2.7" height="2.8" transform="translate(281.43 586.06) rotate(31.1)"/><rect x="-1.35" y="-1.40" width="2.7" height="2.8" transform="translate(289.25 590.76) rotate(30.9)"/><rect x="-1.35" y="-1.40" width="2.7" height="2.8" transform="translate(297.09 595.44) rotate(30.8)"/><rect x="-1.35" y="-1.40" width="2.7" height="2.8" transform="translate(304.94 600.10) rotate(30.6)"/><rect x="-1.35" y="-1.40" width="2.7" height="2.8" transform="translate(312.80 604.74) rotate(30.5)"/><rect x="-1.35" y="-1.40" width="2.7" height="2.8" transform="translate(320.67 609.35) rotate(30.3)"/><rect x="-1.35" y="-1.40" width="2.7" height="2.8" transform="translate(328.56 613.95) rotate(30.2)"/><rect x="-1.35" y="-1.40" width="2.7" height="2.8" transform="translate(336.46 618.53) rotate(30.0)"/><rect x="-1.35" y="-1.40" width="2.7" height="2.8" transform="translate(344.37 623.08) rotate(29.9)"/><rect x="-1.35" y="-1.40" width="2.7" height="2.8" transform="translate(352.29 627.62) rotate(29.8)"/><rect x="-1.35" y="-1.40" width="2.7" height="2.8" transform="translate(360.22 632.14) rotate(29.6)"/><rect x="-1.35" y="-1.40" width="2.7" height="2.8" transform="translate(368.15 636.65) rotate(29.5)"/><rect x="-1.35" y="-1.40" width="2.7" height="2.8" transform="translate(376.10 641.13) rotate(29.4)"/><rect x="-1.35" y="-1.40" width="2.7" height="2.8" transform="translate(384.06 645.60) rotate(29.3)"/><rect x="-1.35" y="-1.40" width="2.7" height="2.8" transform="translate(392.03 650.06) rotate(29.2)"/><rect x="-1.35" y="-1.40" width="2.7" height="2.8" transform="translate(400.01 654.50) rotate(29.0)"/><rect x="-1.35" y="-1.40" width="2.7" height="2.8" transform="translate(407.99 658.92) rotate(28.9)"/><rect x="-1.35" y="-1.40" width="2.7" height="2.8" transform="translate(415.98 663.33) rotate(28.8)"/><rect x="-1.35" y="-1.40" width="2.7" height="2.8" transform="translate(423.98 667.72) rotate(28.7)"/><rect x="-1.35" y="-1.40" width="2.7" height="2.8" transform="translate(431.99 672.10) rotate(28.6)"/><rect x="-1.35" y="-1.40" width="2.7" height="2.8" transform="translate(440.01 676.47) rotate(28.5)"/><rect x="-1.35" y="-1.40" width="2.7" height="2.8" transform="translate(448.03 680.83) rotate(28.4)"/><rect x="-1.35" y="-1.40" width="2.7" height="2.8" transform="translate(456.06 685.17) rotate(28.4)"/><rect x="-1.35" y="-1.40" width="2.7" height="2.8" transform="translate(464.09 689.50) rotate(28.3)"/><rect x="-1.35" y="-1.40" width="2.7" height="2.8" transform="translate(472.14 693.81) rotate(28.2)"/><rect x="-1.35" y="-1.40" width="2.7" height="2.8" transform="translate(480.18 698.12) rotate(28.1)"/><rect x="-1.35" y="-1.40" width="2.7" height="2.8" transform="translate(488.24 702.41) rotate(28.0)"/><rect x="-1.35" y="-1.40" width="2.7" height="2.8" transform="translate(496.30 706.70) rotate(28.0)"/><rect x="-1.35" y="-1.40" width="2.7" height="2.8" transform="translate(504.36 710.97) rotate(27.9)"/><rect x="-1.35" y="-1.40" width="2.7" height="2.8" transform="translate(512.44 715.23) rotate(27.8)"/><rect x="-1.35" y="-1.40" width="2.7" height="2.8" transform="translate(520.51 719.49) rotate(27.7)"/><rect x="-1.35" y="-1.40" width="2.7" height="2.8" transform="translate(528.59 723.73) rotate(27.7)"/><rect x="-1.35" y="-1.40" width="2.7" height="2.8" transform="translate(536.68 727.96) rotate(27.6)"/><rect x="-1.35" y="-1.40" width="2.7" height="2.8" transform="translate(544.77 732.18) rotate(27.5)"/><rect x="-1.35" y="-1.40" width="2.7" height="2.8" transform="translate(552.87 736.40) rotate(27.5)"/><rect x="-1.35" y="-1.40" width="2.7" height="2.8" transform="translate(560.97 740.60) rotate(27.4)"/><rect x="-1.35" y="-1.40" width="2.7" height="2.8" transform="translate(569.08 744.80) rotate(27.3)"/><rect x="-1.35" y="-1.40" width="2.7" height="2.8" transform="translate(577.19 748.98) rotate(27.3)"/><rect x="-1.35" y="-1.40" width="2.7" height="2.8" transform="translate(585.31 753.16) rotate(27.2)"/><rect x="-1.35" y="-1.40" width="2.7" height="2.8" transform="translate(593.43 757.33) rotate(27.1)"/><rect x="-1.35" y="-1.40" width="2.7" height="2.8" transform="translate(601.55 761.49) rotate(27.1)"/><rect x="-1.35" y="-1.40" width="2.7" height="2.8" transform="translate(609.68 765.64) rotate(27.0)"/><rect x="-1.35" y="-1.40" width="2.7" height="2.8" transform="translate(617.81 769.78) rotate(27.0)"/><rect x="-1.35" y="-1.40" width="2.7" height="2.8" transform="translate(625.95 773.92) rotate(26.9)"/><rect x="-1.35" y="-1.40" width="2.7" height="2.8" transform="translate(634.10 778.04) rotate(26.8)"/><rect x="-1.35" y="-1.40" width="2.7" height="2.8" transform="translate(642.24 782.16) rotate(26.8)"/><rect x="-1.35" y="-1.40" width="2.7" height="2.8" transform="translate(650.39 786.26) rotate(26.7)"/><rect x="-1.35" y="-1.40" width="2.7" height="2.8" transform="translate(658.55 790.36) rotate(26.6)"/><rect x="-1.35" y="-1.40" width="2.7" height="2.8" transform="translate(666.71 794.45) rotate(26.6)"/><rect x="-1.35" y="-1.40" width="2.7" height="2.8" transform="translate(674.88 798.53) rotate(26.5)"/><rect x="-1.35" y="-1.40" width="2.7" height="2.8" transform="translate(683.05 802.60) rotate(26.4)"/><rect x="-1.35" y="-1.40" width="2.7" height="2.8" transform="translate(691.22 806.66) rotate(26.4)"/><rect x="-1.35" y="-1.40" width="2.7" height="2.8" transform="translate(699.40 810.71) rotate(26.3)"/><rect x="-1.35" y="-1.40" width="2.7" height="2.8" transform="translate(707.59 814.75) rotate(26.2)"/><rect x="-1.35" y="-1.40" width="2.7" height="2.8" transform="translate(715.78 818.78) rotate(26.2)"/><rect x="-1.35" y="-1.40" width="2.7" height="2.8" transform="translate(723.97 822.80) rotate(26.1)"/><rect x="-1.35" y="-1.40" width="2.7" height="2.8" transform="translate(732.17 826.81) rotate(26.0)"/><rect x="-1.35" y="-1.40" width="2.7" height="2.8" transform="translate(740.38 830.81) rotate(25.9)"/><rect x="-1.35" y="-1.40" width="2.7" height="2.8" transform="translate(748.59 834.79) rotate(25.9)"/><rect x="-1.35" y="-1.40" width="2.7" height="2.8" transform="translate(756.81 838.77) rotate(25.8)"/><rect x="-1.35" y="-1.40" width="2.7" height="2.8" transform="translate(765.03 842.73) rotate(25.7)"/><rect x="-1.35" y="-1.40" width="2.7" height="2.8" transform="translate(773.26 846.68) rotate(25.6)"/><rect x="-1.35" y="-1.40" width="2.7" height="2.8" transform="translate(781.50 850.61) rotate(25.5)"/><rect x="-1.35" y="-1.40" width="2.7" height="2.8" transform="translate(789.74 854.54) rotate(25.4)"/><rect x="-1.35" y="-1.40" width="2.7" height="2.8" transform="translate(797.99 858.44) rotate(25.3)"/><rect x="-1.35" y="-1.40" width="2.7" height="2.8" transform="translate(806.24 862.34) rotate(25.2)"/><rect x="-1.35" y="-1.40" width="2.7" height="2.8" transform="translate(814.51 866.21) rotate(25.1)"/></g>
<g fill="#0080ff"><rect x="-1.35" y="-1.40" width="2.7" height="2.8" transform="translate(110.75 541.83) rotate(17.2)"/><rect x="-1.35" y="-1.40" width="2.7" height="2.8" transform="translate(119.46 544.55) rotate(17.5)"/><rect x="-1.35" y="-1.40" width="2.7" height="2.8" transform="translate(128.16 547.32) rotate(17.8)"/><rect x="-1.35" y="-1.40" width="2.7" height="2.8" transform="translate(136.84 550.14) rotate(18.1)"/><rect x="-1.35" y="-1.40" width="2.7" height="2.8" transform="translate(145.51 553.00) rotate(18.4)"/><rect x="-1.35" y="-1.40" width="2.7" height="2.8" transform="translate(154.16 555.90) rotate(18.7)"/><rect x="-1.35" y="-1.40" width="2.7" height="2.8" transform="translate(162.80 558.85) rotate(19.0)"/><rect x="-1.35" y="-1.40" width="2.7" height="2.8" transform="translate(171.43 561.83) rotate(19.2)"/><rect x="-1.35" y="-1.40" width="2.7" height="2.8" transform="translate(180.04 564.86) rotate(19.5)"/><rect x="-1.35" y="-1.40" width="2.7" height="2.8" transform="translate(188.64 567.93) rotate(19.8)"/><rect x="-1.35" y="-1.40" width="2.7" height="2.8" transform="translate(197.22 571.03) rotate(20.0)"/><rect x="-1.35" y="-1.40" width="2.7" height="2.8" transform="translate(205.79 574.17) rotate(20.3)"/><rect x="-1.35" y="-1.40" width="2.7" height="2.8" transform="translate(214.35 577.35) rotate(20.5)"/><rect x="-1.35" y="-1.40" width="2.7" height="2.8" transform="translate(222.89 580.56) rotate(20.7)"/><rect x="-1.35" y="-1.40" width="2.7" height="2.8" transform="translate(231.42 583.81) rotate(21.0)"/><rect x="-1.35" y="-1.40" width="2.7" height="2.8" transform="translate(239.94 587.09) rotate(21.2)"/><rect x="-1.35" y="-1.40" width="2.7" height="2.8" transform="translate(248.44 590.41) rotate(21.4)"/><rect x="-1.35" y="-1.40" width="2.7" height="2.8" transform="translate(256.93 593.76) rotate(21.6)"/><rect x="-1.35" y="-1.40" width="2.7" height="2.8" transform="translate(265.41 597.13) rotate(21.8)"/><rect x="-1.35" y="-1.40" width="2.7" height="2.8" transform="translate(273.88 600.54) rotate(22.0)"/><rect x="-1.35" y="-1.40" width="2.7" height="2.8" transform="translate(282.34 603.98) rotate(22.2)"/><rect x="-1.35" y="-1.40" width="2.7" height="2.8" transform="translate(290.78 607.45) rotate(22.4)"/><rect x="-1.35" y="-1.40" width="2.7" height="2.8" transform="translate(299.21 610.94) rotate(22.6)"/><rect x="-1.35" y="-1.40" width="2.7" height="2.8" transform="translate(307.63 614.46) rotate(22.8)"/><rect x="-1.35" y="-1.40" width="2.7" height="2.8" transform="translate(316.04 618.01) rotate(23.0)"/><rect x="-1.35" y="-1.40" width="2.7" height="2.8" transform="translate(324.44 621.59) rotate(23.2)"/><rect x="-1.35" y="-1.40" width="2.7" height="2.8" transform="translate(332.83 625.19) rotate(23.3)"/><rect x="-1.35" y="-1.40" width="2.7" height="2.8" transform="translate(341.20 628.82) rotate(23.5)"/><rect x="-1.35" y="-1.40" width="2.7" height="2.8" transform="translate(349.57 632.47) rotate(23.7)"/><rect x="-1.35" y="-1.40" width="2.7" height="2.8" transform="translate(357.92 636.15) rotate(23.8)"/><rect x="-1.35" y="-1.40" width="2.7" height="2.8" transform="translate(366.27 639.85) rotate(24.0)"/><rect x="-1.35" y="-1.40" width="2.7" height="2.8" transform="translate(374.60 643.57) rotate(24.1)"/><rect x="-1.35" y="-1.40" width="2.7" height="2.8" transform="translate(382.92 647.31) rotate(24.3)"/><rect x="-1.35" y="-1.40" width="2.7" height="2.8" transform="translate(391.24 651.08) rotate(24.4)"/><rect x="-1.35" y="-1.40" width="2.7" height="2.8" transform="translate(399.54 654.87) rotate(24.6)"/><rect x="-1.35" y="-1.40" width="2.7" height="2.8" transform="translate(407.84 658.68) rotate(24.7)"/><rect x="-1.35" y="-1.40" width="2.7" height="2.8" transform="translate(416.12 662.51) rotate(24.9)"/><rect x="-1.35" y="-1.40" width="2.7" height="2.8" transform="translate(424.40 666.36) rotate(25.0)"/><rect x="-1.35" y="-1.40" width="2.7" height="2.8" transform="translate(432.66 670.23) rotate(25.2)"/><rect x="-1.35" y="-1.40" width="2.7" height="2.8" transform="translate(440.92 674.12) rotate(25.3)"/><rect x="-1.35" y="-1.40" width="2.7" height="2.8" transform="translate(449.17 678.03) rotate(25.4)"/><rect x="-1.35" y="-1.40" width="2.7" height="2.8" transform="translate(457.41 681.96) rotate(25.6)"/><rect x="-1.35" y="-1.40" width="2.7" height="2.8" transform="translate(465.64 685.90) rotate(25.7)"/><rect x="-1.35" y="-1.40" width="2.7" height="2.8" transform="translate(473.86 689.87) rotate(25.8)"/><rect x="-1.35" y="-1.40" width="2.7" height="2.8" transform="translate(482.07 693.85) rotate(25.9)"/><rect x="-1.35" y="-1.40" width="2.7" height="2.8" transform="translate(490.28 697.85) rotate(26.1)"/><rect x="-1.35" y="-1.40" width="2.7" height="2.8" transform="translate(498.47 701.87) rotate(26.2)"/><rect x="-1.35" y="-1.40" width="2.7" height="2.8" transform="translate(506.66 705.90) rotate(26.3)"/><rect x="-1.35" y="-1.40" width="2.7" height="2.8" transform="translate(514.84 709.96) rotate(26.4)"/><rect x="-1.35" y="-1.40" width="2.7" height="2.8" transform="translate(523.01 714.03) rotate(26.5)"/><rect x="-1.35" y="-1.40" width="2.7" height="2.8" transform="translate(531.17 718.11) rotate(26.6)"/><rect x="-1.35" y="-1.40" width="2.7" height="2.8" transform="translate(539.33 722.21) rotate(26.8)"/><rect x="-1.35" y="-1.40" width="2.7" height="2.8" transform="translate(547.47 726.33) rotate(26.9)"/><rect x="-1.35" y="-1.40" width="2.7" height="2.8" transform="translate(555.61 730.46) rotate(27.0)"/><rect x="-1.35" y="-1.40" width="2.7" height="2.8" transform="translate(563.74 734.61) rotate(27.1)"/><rect x="-1.35" y="-1.40" width="2.7" height="2.8" transform="translate(571.86 738.78) rotate(27.2)"/><rect x="-1.35" y="-1.40" width="2.7" height="2.8" transform="translate(579.98 742.96) rotate(27.3)"/><rect x="-1.35" y="-1.40" width="2.7" height="2.8" transform="translate(588.08 747.16) rotate(27.4)"/><rect x="-1.35" y="-1.40" width="2.7" height="2.8" transform="translate(596.18 751.37) rotate(27.5)"/><rect x="-1.35" y="-1.40" width="2.7" height="2.8" transform="translate(604.27 755.59) rotate(27.6)"/><rect x="-1.35" y="-1.40" width="2.7" height="2.8" transform="translate(612.35 759.83) rotate(27.7)"/><rect x="-1.35" y="-1.40" width="2.7" height="2.8" transform="translate(620.43 764.09) rotate(27.8)"/><rect x="-1.35" y="-1.40" width="2.7" height="2.8" transform="translate(628.49 768.36) rotate(28.0)"/><rect x="-1.35" y="-1.40" width="2.7" height="2.8" transform="translate(636.55 772.65) rotate(28.1)"/><rect x="-1.35" y="-1.40" width="2.7" height="2.8" transform="translate(644.60 776.95) rotate(28.2)"/><rect x="-1.35" y="-1.40" width="2.7" height="2.8" transform="translate(652.65 781.26) rotate(28.3)"/><rect x="-1.35" y="-1.40" width="2.7" height="2.8" transform="translate(660.68 785.59) rotate(28.4)"/><rect x="-1.35" y="-1.40" width="2.7" height="2.8" transform="translate(668.71 789.94) rotate(28.5)"/><rect x="-1.35" y="-1.40" width="2.7" height="2.8" transform="translate(676.73 794.29) rotate(28.6)"/><rect x="-1.35" y="-1.40" width="2.7" height="2.8" transform="translate(684.74 798.67) rotate(28.7)"/><rect x="-1.35" y="-1.40" width="2.7" height="2.8" transform="translate(692.74 803.06) rotate(28.8)"/><rect x="-1.35" y="-1.40" width="2.7" height="2.8" transform="translate(700.74 807.46) rotate(28.9)"/><rect x="-1.35" y="-1.40" width="2.7" height="2.8" transform="translate(708.73 811.88) rotate(29.0)"/><rect x="-1.35" y="-1.40" width="2.7" height="2.8" transform="translate(716.71 816.31) rotate(29.1)"/><rect x="-1.35" y="-1.40" width="2.7" height="2.8" transform="translate(724.68 820.76) rotate(29.2)"/><rect x="-1.35" y="-1.40" width="2.7" height="2.8" transform="translate(732.64 825.22) rotate(29.3)"/><rect x="-1.35" y="-1.40" width="2.7" height="2.8" transform="translate(740.60 829.69) rotate(29.4)"/><rect x="-1.35" y="-1.40" width="2.7" height="2.8" transform="translate(748.54 834.19) rotate(29.5)"/><rect x="-1.35" y="-1.40" width="2.7" height="2.8" transform="translate(756.48 838.69) rotate(29.6)"/><rect x="-1.35" y="-1.40" width="2.7" height="2.8" transform="translate(764.41 843.21) rotate(29.7)"/><rect x="-1.35" y="-1.40" width="2.7" height="2.8" transform="translate(772.33 847.75) rotate(29.9)"/><rect x="-1.35" y="-1.40" width="2.7" height="2.8" transform="translate(780.24 852.30) rotate(30.0)"/><rect x="-1.35" y="-1.40" width="2.7" height="2.8" transform="translate(788.14 856.87) rotate(30.1)"/><rect x="-1.35" y="-1.40" width="2.7" height="2.8" transform="translate(796.04 861.45) rotate(30.2)"/><rect x="-1.35" y="-1.40" width="2.7" height="2.8" transform="translate(803.92 866.05) rotate(30.3)"/><rect x="-1.35" y="-1.40" width="2.7" height="2.8" transform="translate(811.80 870.66) rotate(30.4)"/></g>
</g>
<g>
<path d="M763 0H583V1147Q518 1085 412.5 1023T223 930V1104Q374 1175 487 1276T647 1472H763Z" transform="translate(66.25 63.60) scale(0.01526 -0.01526)"/><text transform="translate(84.12 63.60) scale(1 1.04)" font-size="31.25px">0</text><text transform="translate(84.12 148.10) scale(1 1.04)" font-size="31.25px">9</text><text transform="translate(84.12 232.60) scale(1 1.04)" font-size="31.25px">8</text><text transform="translate(84.12 317.10) scale(1 1.04)" font-size="31.25px">7</text><text transform="translate(84.12 401.60) scale(1 1.04)" font-size="31.25px">6</text><path d="M763 0H583V1147Q518 1085 412.5 1023T223 930V1104Q374 1175 487 1276T647 1472H763Z" transform="translate(66.25 531.60) scale(0.01526 -0.01526)"/><text transform="translate(84.12 531.60) scale(1 1.04)" font-size="31.25px">0</text><text transform="translate(84.12 616.15) scale(1 1.04)" font-size="31.25px">9</text><text transform="translate(84.12 700.70) scale(1 1.04)" font-size="31.25px">8</text><text transform="translate(84.12 785.25) scale(1 1.04)" font-size="31.25px">7</text><text transform="translate(84.12 869.80) scale(1 1.04)" font-size="31.25px">6</text>
<text transform="translate(118.48 456.10) scale(1 1.04)" font-size="31.25px">0.5</text><path d="M763 0H583V1147Q518 1085 412.5 1023T223 930V1104Q374 1175 487 1276T647 1472H763Z" transform="translate(267.31 456.10) scale(0.01526 -0.01526)"/><text transform="translate(285.18 456.10) scale(1 1.04)" font-size="31.25px">.0</text><path d="M763 0H583V1147Q518 1085 412.5 1023T223 930V1104Q374 1175 487 1276T647 1472H763Z" transform="translate(416.63 456.10) scale(0.01526 -0.01526)"/><text transform="translate(434.51 456.10) scale(1 1.04)" font-size="31.25px">.5</text><text transform="translate(566.46 456.10) scale(1 1.04)" font-size="31.25px">2.0</text><text transform="translate(715.78 456.10) scale(1 1.04)" font-size="31.25px">2.5</text><text transform="translate(118.48 919.30) scale(1 1.04)" font-size="31.25px">0.5</text><path d="M763 0H583V1147Q518 1085 412.5 1023T223 930V1104Q374 1175 487 1276T647 1472H763Z" transform="translate(267.31 919.30) scale(0.01526 -0.01526)"/><text transform="translate(285.18 919.30) scale(1 1.04)" font-size="31.25px">.0</text><path d="M763 0H583V1147Q518 1085 412.5 1023T223 930V1104Q374 1175 487 1276T647 1472H763Z" transform="translate(416.63 919.30) scale(0.01526 -0.01526)"/><text transform="translate(434.51 919.30) scale(1 1.04)" font-size="31.25px">.5</text><text transform="translate(566.46 919.30) scale(1 1.04)" font-size="31.25px">2.0</text><text transform="translate(715.78 919.30) scale(1 1.04)" font-size="31.25px">2.5</text>
</g>
<g font-size="27.5px"><text x="139.9" y="389.9">Gas-Rich Merger</text><text x="139.9" y="857.9">Re-Merger</text></g>
<g font-size="31.25px"><text transform="translate(43.8 332.5) rotate(-90)" >log</text><text transform="translate(43.8 290.76) rotate(-90) scale(0.8 1)">(</text><text transform="translate(43.8 282.4) rotate(-90) scale(1.15 1)" font-family="Liberation Serif, serif" font-size="31px">&#931;</text><text transform="translate(43.8 261.90) rotate(-90) scale(0.8 1)">)</text><text transform="translate(43.8 236.6) rotate(-90)" >[</text><text transform="translate(43.8 228.9) rotate(-90)" >M</text><circle cx="43.6" cy="193.7" r="6.9" fill="none" stroke="#000" stroke-width="1.4"/><circle cx="43.6" cy="193.7" r="2.3" fill="#000"/><text transform="translate(43.8 181.9) rotate(-90)" >kpc</text><text transform="translate(30.4 133.8) rotate(-90)" font-size="19.4px">-2</text><text transform="translate(43.8 117.2) rotate(-90)" >]</text></g>
<g font-size="31.25px"><text transform="translate(43.8 796.1) rotate(-90)" >log</text><text transform="translate(43.8 754.36) rotate(-90) scale(0.8 1)">(</text><text transform="translate(43.8 746.0) rotate(-90) scale(1.15 1)" font-family="Liberation Serif, serif" font-size="31px">&#931;</text><text transform="translate(43.8 725.50) rotate(-90) scale(0.8 1)">)</text><text transform="translate(43.8 700.2) rotate(-90)" >[</text><text transform="translate(43.8 692.5) rotate(-90)" >M</text><circle cx="43.6" cy="657.3" r="6.9" fill="none" stroke="#000" stroke-width="1.4"/><circle cx="43.6" cy="657.3" r="2.3" fill="#000"/><text transform="translate(43.8 645.5) rotate(-90)" >kpc</text><text transform="translate(30.4 597.4) rotate(-90)" font-size="19.4px">-2</text><text transform="translate(43.8 580.8) rotate(-90)" >]</text></g>
<g font-size="31.25px"><text x="390.6" y="951.6">r</text><path d="M763 0H583V1147Q518 1085 412.5 1023T223 930V1104Q374 1175 487 1276T647 1472H763Z" transform="translate(400.69 938.50) scale(0.00947 -0.00947)"/><text transform="translate(411.79 938.50) scale(1 1.04)" font-size="19.4px">/4</text><text x="444.0" y="951.6">[kpc</text><path d="M763 0H583V1147Q518 1085 412.5 1023T223 930V1104Q374 1175 487 1276T647 1472H763Z" transform="translate(499.79 938.50) scale(0.00947 -0.00947)"/><text transform="translate(510.89 938.50) scale(1 1.04)" font-size="19.4px">/4</text><text x="526.6" y="951.6">]</text></g>
<rect x="539.95" y="50.40" width="2.7" height="2.8" fill="#0080ff"/><rect x="549.06" y="50.40" width="2.7" height="2.8" fill="#0080ff"/><rect x="558.17" y="50.40" width="2.7" height="2.8" fill="#0080ff"/><rect x="567.28" y="50.40" width="2.7" height="2.8" fill="#0080ff"/><rect x="576.39" y="50.40" width="2.7" height="2.8" fill="#0080ff"/><rect x="585.50" y="50.40" width="2.7" height="2.8" fill="#0080ff"/><rect x="594.61" y="50.40" width="2.7" height="2.8" fill="#0080ff"/><rect x="603.72" y="50.40" width="2.7" height="2.8" fill="#0080ff"/><rect x="612.83" y="50.40" width="2.7" height="2.8" fill="#0080ff"/><rect x="621.94" y="50.40" width="2.7" height="2.8" fill="#0080ff"/><rect x="631.05" y="50.40" width="2.7" height="2.8" fill="#0080ff"/><rect x="640.16" y="50.40" width="2.7" height="2.8" fill="#0080ff"/><g font-size="25px"><text x="661.4" y="58.7">n</text><text x="675.3" y="64.7" font-size="15.5px">s</text><path d="M691.00 49.85h12.40v1.90h-12.40zM691.00 54.25h12.40v1.90h-12.40z"/><text transform="translate(711.55 58.70) scale(1 1.04)" font-size="25px">2.6</text><text transform="translate(689.50 86.80) scale(0.82 1)" font-size="25px">(</text><text transform="translate(697.5 86.5) scale(1.12 0.97)" font-family="Liberation Serif, serif" font-size="26px" stroke="#000" stroke-width="0.3">&#963;</text><text transform="translate(712.7 91.0) scale(1.2 1)" font-family="Liberation Serif, serif" font-size="14.5px" stroke="#000" stroke-width="0.15">&#956;</text><path d="M722.00 77.95h12.40v1.90h-12.40zM722.00 82.35h12.40v1.90h-12.40z"/><text transform="translate(735.60 86.80) scale(1 1.04)" font-size="25px">0.06</text><text transform="translate(784.25 86.80) scale(0.82 1)" font-size="25px">)</text></g><rect x="539.95" y="130.40" width="2.7" height="2.8" fill="#ff0000"/><rect x="549.06" y="130.40" width="2.7" height="2.8" fill="#ff0000"/><rect x="558.17" y="130.40" width="2.7" height="2.8" fill="#ff0000"/><rect x="567.28" y="130.40" width="2.7" height="2.8" fill="#ff0000"/><rect x="576.39" y="130.40" width="2.7" height="2.8" fill="#ff0000"/><rect x="585.50" y="130.40" width="2.7" height="2.8" fill="#ff0000"/><rect x="594.61" y="130.40" width="2.7" height="2.8" fill="#ff0000"/><rect x="603.72" y="130.40" width="2.7" height="2.8" fill="#ff0000"/><rect x="612.83" y="130.40" width="2.7" height="2.8" fill="#ff0000"/><rect x="621.94" y="130.40" width="2.7" height="2.8" fill="#ff0000"/><rect x="631.05" y="130.40" width="2.7" height="2.8" fill="#ff0000"/><rect x="640.16" y="130.40" width="2.7" height="2.8" fill="#ff0000"/><g font-size="25px"><text x="661.4" y="138.7">n</text><text x="675.3" y="144.7" font-size="15.5px">s</text><path d="M691.00 129.85h12.40v1.90h-12.40zM691.00 134.25h12.40v1.90h-12.40z"/><text transform="translate(711.55 138.70) scale(1 1.04)" font-size="25px">4.</text><path d="M763 0H583V1147Q518 1085 412.5 1023T223 930V1104Q374 1175 487 1276T647 1472H763Z" transform="translate(732.00 138.70) scale(0.01221 -0.01221)"/><text transform="translate(689.50 166.80) scale(0.82 1)" font-size="25px">(</text><text transform="translate(697.5 166.5) scale(1.12 0.97)" font-family="Liberation Serif, serif" font-size="26px" stroke="#000" stroke-width="0.3">&#963;</text><text transform="translate(712.7 171.0) scale(1.2 1)" font-family="Liberation Serif, serif" font-size="14.5px" stroke="#000" stroke-width="0.15">&#956;</text><path d="M722.00 157.95h12.40v1.90h-12.40zM722.00 162.35h12.40v1.90h-12.40z"/><text transform="translate(735.60 166.80) scale(1 1.04)" font-size="25px">0.</text><path d="M763 0H583V1147Q518 1085 412.5 1023T223 930V1104Q374 1175 487 1276T647 1472H763Z" transform="translate(756.05 166.80) scale(0.01221 -0.01221)"/><text transform="translate(770.35 166.80) scale(1 1.04)" font-size="25px">2</text><text transform="translate(784.25 166.80) scale(0.82 1)" font-size="25px">)</text></g>
<rect x="539.95" y="518.40" width="2.7" height="2.8" fill="#0080ff"/><rect x="549.06" y="518.40" width="2.7" height="2.8" fill="#0080ff"/><rect x="558.17" y="518.40" width="2.7" height="2.8" fill="#0080ff"/><rect x="567.28" y="518.40" width="2.7" height="2.8" fill="#0080ff"/><rect x="576.39" y="518.40" width="2.7" height="2.8" fill="#0080ff"/><rect x="585.50" y="518.40" width="2.7" height="2.8" fill="#0080ff"/><rect x="594.61" y="518.40" width="2.7" height="2.8" fill="#0080ff"/><rect x="603.72" y="518.40" width="2.7" height="2.8" fill="#0080ff"/><rect x="612.83" y="518.40" width="2.7" height="2.8" fill="#0080ff"/><rect x="621.94" y="518.40" width="2.7" height="2.8" fill="#0080ff"/><rect x="631.05" y="518.40" width="2.7" height="2.8" fill="#0080ff"/><rect x="640.16" y="518.40" width="2.7" height="2.8" fill="#0080ff"/><g font-size="25px"><text x="661.4" y="526.7">n</text><text x="675.3" y="532.7" font-size="15.5px">s</text><path d="M691.00 517.85h12.40v1.90h-12.40zM691.00 522.25h12.40v1.90h-12.40z"/><text transform="translate(711.55 526.70) scale(1 1.04)" font-size="25px">3.2</text><text transform="translate(689.50 554.80) scale(0.82 1)" font-size="25px">(</text><text transform="translate(697.5 554.5) scale(1.12 0.97)" font-family="Liberation Serif, serif" font-size="26px" stroke="#000" stroke-width="0.3">&#963;</text><text transform="translate(712.7 559.0) scale(1.2 1)" font-family="Liberation Serif, serif" font-size="14.5px" stroke="#000" stroke-width="0.15">&#956;</text><path d="M722.00 545.95h12.40v1.90h-12.40zM722.00 550.35h12.40v1.90h-12.40z"/><text transform="translate(735.60 554.80) scale(1 1.04)" font-size="25px">0.</text><path d="M763 0H583V1147Q518 1085 412.5 1023T223 930V1104Q374 1175 487 1276T647 1472H763Z" transform="translate(756.05 554.80) scale(0.01221 -0.01221)"/><path d="M763 0H583V1147Q518 1085 412.5 1023T223 930V1104Q374 1175 487 1276T647 1472H763Z" transform="translate(769.95 554.80) scale(0.01221 -0.01221)"/><text transform="translate(784.25 554.80) scale(0.82 1)" font-size="25px">)</text></g><rect x="539.95" y="598.40" width="2.7" height="2.8" fill="#ff0000"/><rect x="549.06" y="598.40" width="2.7" height="2.8" fill="#ff0000"/><rect x="558.17" y="598.40" width="2.7" height="2.8" fill="#ff0000"/><rect x="567.28" y="598.40" width="2.7" height="2.8" fill="#ff0000"/><rect x="576.39" y="598.40" width="2.7" height="2.8" fill="#ff0000"/><rect x="585.50" y="598.40" width="2.7" height="2.8" fill="#ff0000"/><rect x="594.61" y="598.40" width="2.7" height="2.8" fill="#ff0000"/><rect x="603.72" y="598.40" width="2.7" height="2.8" fill="#ff0000"/><rect x="612.83" y="598.40" width="2.7" height="2.8" fill="#ff0000"/><rect x="621.94" y="598.40" width="2.7" height="2.8" fill="#ff0000"/><rect x="631.05" y="598.40" width="2.7" height="2.8" fill="#ff0000"/><rect x="640.16" y="598.40" width="2.7" height="2.8" fill="#ff0000"/><g font-size="25px"><text x="661.4" y="606.7">n</text><text x="675.3" y="612.7" font-size="15.5px">s</text><path d="M691.00 597.85h12.40v1.90h-12.40zM691.00 602.25h12.40v1.90h-12.40z"/><text transform="translate(711.55 606.70) scale(1 1.04)" font-size="25px">5.2</text><text transform="translate(689.50 634.80) scale(0.82 1)" font-size="25px">(</text><text transform="translate(697.5 634.5) scale(1.12 0.97)" font-family="Liberation Serif, serif" font-size="26px" stroke="#000" stroke-width="0.3">&#963;</text><text transform="translate(712.7 639.0) scale(1.2 1)" font-family="Liberation Serif, serif" font-size="14.5px" stroke="#000" stroke-width="0.15">&#956;</text><path d="M722.00 625.95h12.40v1.90h-12.40zM722.00 630.35h12.40v1.90h-12.40z"/><text transform="translate(735.60 634.80) scale(1 1.04)" font-size="25px">0.04</text><text transform="translate(784.25 634.80) scale(0.82 1)" font-size="25px">)</text></g>
</svg>
</body></html>
